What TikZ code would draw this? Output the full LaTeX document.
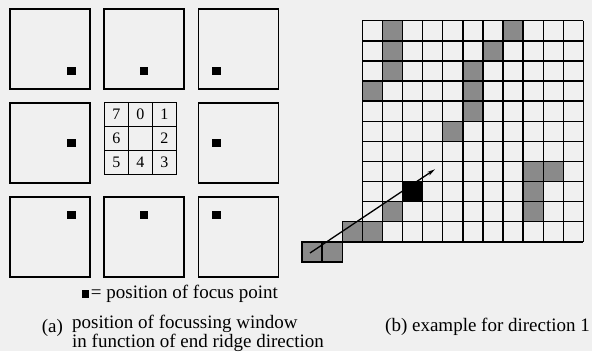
\documentclass[tikz,border=0pt]{standalone}
\usepackage{fontspec}
\setmainfont{Liberation Serif}
\usetikzlibrary{arrows.meta}
\definecolor{bgpaper}{RGB}{240,240,240}
\definecolor{shadecell}{RGB}{138,138,138}
\tikzset{
  winbox/.style={draw, line width=1.3pt, minimum width=80pt, minimum height=80pt, inner sep=0pt},
  focus/.style={fill=black, minimum size=8.5pt, inner sep=0pt},
  dircell/.style={draw, line width=1.2pt, minimum size=24pt, inner sep=0pt, font=\fontsize{16pt}{18pt}\selectfont},
  gridline/.style={line width=1.4pt},
  hcell/.style={fill=shadecell},
  hedge/.style={draw, line width=1.4pt, fill=shadecell},
  bcell/.style={fill=black},
  arrowline/.style={line width=1.3pt, -{Stealth[length=8pt,width=4pt]}},
  txt/.style={inner sep=0pt, font=\fontsize{19pt}{23pt}\selectfont}
}
\begin{document}
\begin{tikzpicture}[x=1pt,y=-1pt]
\useasboundingbox (0,0) rectangle (592,351);
\fill[bgpaper] (0,0) rectangle (592,351);
% windows
\node[winbox] (w7) at (50,49) {};
\node[winbox] (w0) at (144,49) {};
\node[winbox] (w1) at (238.3,49) {};
\node[winbox] (w6) at (50,143) {};
\node[winbox] (w2) at (238.3,143) {};
\node[winbox] (w5) at (50,237) {};
\node[winbox] (w4) at (144,237) {};
\node[winbox] (w3) at (238.3,237) {};
% focus points
\node[focus] (f7) at (71.7,71) {};
\node[focus] (f0) at (144.2,71) {};
\node[focus] (f1) at (216.5,71) {};
\node[focus] (f6) at (71.7,143) {};
\node[focus] (f2) at (216.5,143) {};
\node[focus] (f5) at (71.7,215) {};
\node[focus] (f4) at (144.2,215) {};
\node[focus] (f3) at (216.5,215) {};
% direction grid
\node[dircell] (d7) at (116.3,114.7) {7};
\node[dircell] (d0) at (140.3,114.7) {0};
\node[dircell] (d1) at (164.3,114.7) {1};
\node[dircell] (d6) at (116.3,138.7) {6};
\node[dircell] (dc) at (140.3,138.7) {};
\node[dircell] (d2) at (164.3,138.7) {2};
\node[dircell] (d5) at (116.3,162.7) {5};
\node[dircell] (d4) at (140.3,162.7) {4};
\node[dircell] (d3) at (164.3,162.7) {3};
% legend
\node[focus, minimum size=7.6pt] (lg) at (85.4,293.9) {};
\node[txt, anchor=base west] (lgt) at (90.7,298) {= position of focus point};
% right grid: fills inside the grid
\foreach \c/\r in {1/0,7/0,1/1,6/1,1/2,5/2,0/3,5/3,5/4,4/5,8/7,9/7,8/8,8/9,1/9,0/10}{
  \fill[hcell] ({362.3+\c*20.1},{20.7+\r*20.1}) rectangle +(20.1,20.1);
}
\fill[bcell] ({362.3+2*20.1},{20.7+8*20.1}) rectangle +(20.1,20.1);
% right grid: lines
\foreach \i in {0,...,11}{
  \draw[gridline] ({362.3+\i*20.1},20.7) -- ({362.3+\i*20.1},241.8);
  \draw[gridline] (362.3,{20.7+\i*20.1}) -- (583.4,{20.7+\i*20.1});
}
% shaded cells outside the grid
\foreach \c/\r in {-1/10,-3/11,-2/11}{
  \draw[hedge] ({362.3+\c*20.1},{20.7+\r*20.1}) rectangle +(20.1,20.1);
}
% arrow
\coordinate (as) at (310,253);
\coordinate (ae) at (435,169.3);
\draw[arrowline] (as) -- (ae);
% captions
\node[txt, anchor=base west] (la) at (41.7,332.3) {(a)};
\node[txt, anchor=base west, align=left, font=\fontsize{19pt}{15.1pt}\selectfont] (la1) at (72,347.4) {position of focussing window\\in function of end ridge direction};
\node[txt, anchor=base west] (lb) at (385,331.7) {(b) example for direction 1};
\end{tikzpicture}
\end{document}
